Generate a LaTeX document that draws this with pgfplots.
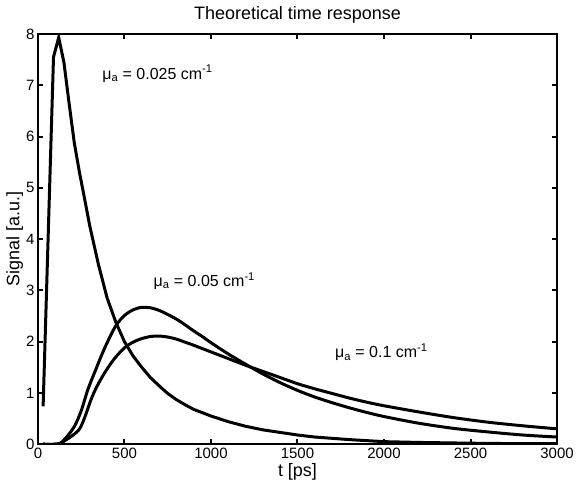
\documentclass[border=0pt]{standalone}
\usepackage{fontspec}
\setmainfont{Liberation Sans}
\usepackage{pgfplots}
\pgfplotsset{compat=1.18}

\pgfplotstableread{
t     s
30    0.74
60    4.15
90    7.55
120   7.93
150   7.45
180   6.65
210   5.88
240   5.30
270   4.78
300   4.25
350   3.50
400   2.85
450   2.38
500   2.00
550   1.72
600   1.50
650   1.30
700   1.14
750   0.99
800   0.87
850   0.77
900   0.68
1000  0.55
1100  0.44
1200  0.35
1300  0.28
1400  0.23
1500  0.18
1600  0.14
1800  0.09
2000  0.05
2200  0.035
2500  0.02
2800  0.01
3000  0.01
}\mufirst

\pgfplotstableread{
t     s
30    0.0
100   0.0
130   0.02
155   0.10
180   0.20
213   0.36
250   0.65
289   1.07
330   1.42
366   1.72
400   1.98
450   2.31
500   2.51
550   2.62
600   2.67
650   2.66
700   2.61
750   2.53
800   2.44
850   2.33
900   2.21
950   2.10
1000  1.98
1100  1.76
1200  1.56
1300  1.37
1400  1.20
1500  1.05
1600  0.92
1700  0.81
1800  0.71
1900  0.62
2000  0.54
2200  0.41
2400  0.31
2600  0.24
2800  0.18
3000  0.14
}\musecond

\pgfplotstableread{
t     s
30    0.0
100   0.0
130   0.02
160   0.08
200   0.17
241   0.30
270   0.52
308   0.88
340   1.12
385   1.39
440   1.66
500   1.88
550   1.99
600   2.06
650   2.10
700   2.11
750   2.09
800   2.05
850   1.99
900   1.93
1000  1.80
1100  1.67
1200  1.54
1300  1.42
1400  1.30
1500  1.18
1600  1.08
1700  0.99
1800  0.90
1900  0.82
2000  0.75
2200  0.63
2400  0.52
2600  0.43
2800  0.36
3000  0.30
}\muthird

\begin{document}
\begin{tikzpicture}
  \begin{axis}[
      name=ax,
      scale only axis,
      width=520pt, height=411pt,
      xmin=0, xmax=3000,
      ymin=0, ymax=8,
      xtick={0,500,...,3000},
      ytick={0,1,...,8},
      tick align=inside,
      major tick length=5pt,
      axis line style={line width=2.4pt},
      every tick/.style={black, line width=2pt},
      tick label style={font=\fontsize{15}{17}\selectfont},
      label style={font=\fontsize{18}{20}\selectfont},
      title style={font=\fontsize{18}{20}\selectfont, yshift=1pt},
      /pgf/number format/assume math mode=true,
      /pgf/number format/1000 sep={},
      scaled x ticks=false,
      title={Theoretical time response},
      xlabel={t [ps]},
      ylabel={Signal [a.u.]},
      xlabel style={yshift=2pt},
      ylabel style={yshift=-4pt},
    ]
    \addplot[black, line width=3pt] table[x=t, y=s] {\mufirst};
    \addplot[black, line width=3pt, smooth] table[x=t, y=s] {\musecond};
    \addplot[black, line width=3pt, smooth] table[x=t, y=s] {\muthird};

    \node[anchor=base west, font=\fontsize{16}{18}\selectfont] at (axis cs:352,7.12)
      {μ\textsubscript{a} = 0.025 cm\textsuperscript{-1}};
    \node[anchor=base west, font=\fontsize{16}{18}\selectfont] at (axis cs:648,3.08)
      {μ\textsubscript{a} = 0.05 cm\textsuperscript{-1}};
    \node[anchor=base west, font=\fontsize{16}{18}\selectfont] at (axis cs:1697,1.69)
      {μ\textsubscript{a} = 0.1 cm\textsuperscript{-1}};
  \end{axis}
  \path[use as bounding box] (ax.south west) ++(-38pt,-42pt) rectangle ++(577pt,487pt);
\end{tikzpicture}
\end{document}
